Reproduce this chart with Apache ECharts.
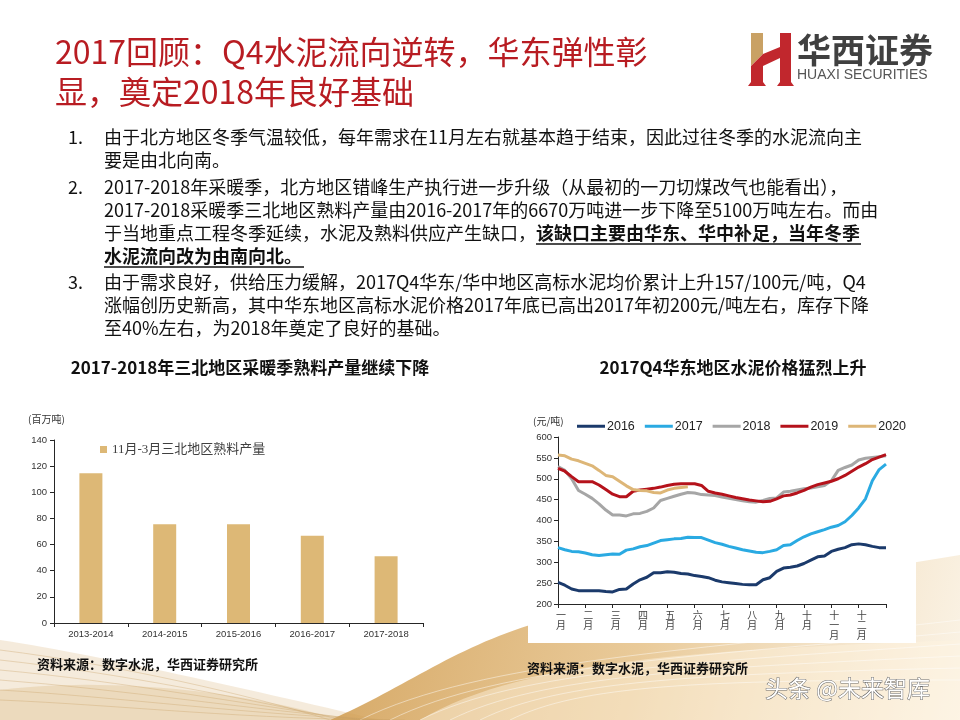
<!DOCTYPE html>
<html>
<head>
<meta charset="utf-8">
<script src="https://cdn.jsdelivr.net/npm/echarts@6/dist/echarts.min.js"></script>
<style>
html,body{margin:0;padding:0;background:#fff;}
#c{width:960px;height:720px;}
</style>
</head>
<body>
<div id="c"></div>
<script>
// ---------- data ----------
const barCategories = ['2013-2014', '2014-2015', '2015-2016', '2016-2017', '2017-2018'];
const barValues = [114.5, 75.6, 75.6, 66.7, 51.0];
const barSeriesName = '11月-3月三北地区熟料产量';
const barTicks = [0, 20, 40, 60, 80, 100, 120, 140];

const monthLabels = ['一\n月', '二\n月', '三\n月', '四\n月', '五\n月', '六\n月', '七\n月', '八\n月', '九\n月', '十\n月', '十\n一\n月', '十\n二\n月'];
const years = ['2016', '2017', '2018', '2019', '2020'];
const price2016 = [252,245,236,232,232,232,232,230,229,235,236,248,258,264,275,275,277,276,273,272,268,266,263,257,253,251,249,247,246,246,258,263,278,286,288,291,297,305,313,315,326,331,335,342,344,342,338,335,335];
const price2017 = [335,330,326,325,322,318,316,318,320,319,329,332,337,340,346,352,354,356,357,360,359,359,353,347,343,338,334,330,327,324,323,326,330,340,342,352,361,368,373,378,384,388,397,412,430,452,495,522,535];
const price2018 = [529,520,500,472,463,453,440,425,413,413,411,416,417,422,430,448,453,458,463,467,466,462,461,460,456,453,450,447,445,444,448,453,454,468,470,473,476,478,481,484,495,520,527,533,545,549,551,553,555];
const price2019 = [525,518,505,493,493,493,485,474,463,457,457,470,473,475,477,480,484,487,488,488,488,484,470,466,463,459,455,452,449,447,445,446,452,459,461,466,472,480,486,490,494,500,508,518,528,536,546,552,558];
const price2020 = [557,555,547,543,537,531,520,508,505,494,483,474,472,471,467,466,473,477,479,481];
const priceTicks = [200, 250, 300, 350, 400, 450, 500, 550, 600];

// ---------- text ----------
const titleLine1 = '2017回顾：Q4水泥流向逆转，华东弹性彰';
const titleLine2 = '显，奠定2018年良好基础';
const paraLines = [
  ['1.', '由于北方地区冬季气温较低，每年需求在11月左右就基本趋于结束，因此过往冬季的水泥流向主'],
  ['', '要是由北向南。'],
  ['2.', '2017-2018年采暖季，北方地区错峰生产执行进一步升级（从最初的一刀切煤改气也能看出），'],
  ['', '2017-2018采暖季三北地区熟料产量由2016-2017年的6670万吨进一步下降至5100万吨左右。而由'],
  ['', '于当地重点工程冬季延续，水泥及熟料供应产生缺口，'],
  ['', ''],
  ['3.', '由于需求良好，供给压力缓解，2017Q4华东/华中地区高标水泥均价累计上升157/100元/吨，Q4'],
  ['', '涨幅创历史新高，其中华东地区高标水泥价格2017年底已高出2017年初200元/吨左右，库存下降'],
  ['', '至40%左右，为2018年奠定了良好的基础。']
];
const boldLine5 = '该缺口主要由华东、华中补足，当年冬季';
const boldLine6 = '水泥流向改为由南向北。';
const leftTitle = '2017-2018年三北地区采暖季熟料产量继续下降';
const rightTitle = '2017Q4华东地区水泥价格猛烈上升';
const sourceText = '资料来源：数字水泥，华西证券研究所';

const weekCats = price2016.map((v, i) => 'w' + i);
const colors = ['#1B3A6B', '#2AAAE2', '#A6A6A6', '#B5121B', '#DDB677'];

const CJK = '"Liberation Sans Narrow","Noto Sans CJK SC",sans-serif';
const SANS = '"Liberation Sans","Noto Sans CJK SC",sans-serif';

function T(x, y, text, font, fill, align, extra) {
  const st = Object.assign({
    text: text, x: x, y: y, font: font, fill: fill,
    align: align || 'left', verticalAlign: 'middle',
    textAlign: align || 'left', textVerticalAlign: 'middle'
  }, extra || {});
  return { type: 'text', z: 50, style: st, silent: true };
}
// decorative curve sampling (background only)
function bez(p0, p1, p2, p3, n) {
  const pts = [];
  for (let i = 0; i <= n; i++) {
    const t = i / n, u = 1 - t;
    pts.push([u*u*u*p0[0] + 3*u*u*t*p1[0] + 3*u*t*t*p2[0] + t*t*t*p3[0],
              u*u*u*p0[1] + 3*u*u*t*p1[1] + 3*u*t*t*p2[1] + t*t*t*p3[1]]);
  }
  return pts;
}
function shapePoly(pts, fill, z) {
  return { type: 'polygon', z: z, silent: true, shape: { points: pts }, style: { fill: fill } };
}
function curve(p0, p1, p2, p3, stroke, z) {
  return { type: 'bezierCurve', z: z, silent: true,
    shape: { x1: p0[0], y1: p0[1], cpx1: p1[0], cpy1: p1[1], cpx2: p2[0], cpy2: p2[1], x2: p3[0], y2: p3[1] },
    style: { fill: null, stroke: stroke, lineWidth: 1 } };
}

const g = [];
// background decorations
g.push(shapePoly(bez([0, 640], [100, 655], [250, 690], [380, 720], 30).concat([[0, 720]]), 'rgba(222,190,138,0.30)', -20));
g.push(shapePoly(bez([0, 690], [120, 675], [260, 695], [340, 720], 30).concat([[0, 720]]), 'rgba(215,178,120,0.30)', -20));
g.push(shapePoly(bez([330, 720], [400, 690], [450, 650], [530, 625], 30).concat([[960, 555], [960, 720]]),
  { type: 'linear', x: 0, y: 0, x2: 1, y2: 1, global: false, colorStops: [
    { offset: 0, color: 'rgba(205,150,70,0.85)' }, { offset: 0.5, color: 'rgba(226,185,120,0.75)' }, { offset: 1, color: 'rgba(248,236,215,0.6)' }] }, -19));
g.push(shapePoly(bez([420, 720], [520, 660], [700, 650], [960, 640], 30).concat([[960, 720]]), 'rgba(255,245,225,0.45)', -18));
for (let k = 0; k < 6; k++) {
  g.push(curve([360 + k * 30, 720], [480 + k * 20, 660 + k * 5], [700, 650 + k * 6], [960, 620 + k * 12], 'rgba(255,255,255,0.45)', -17));
  g.push(curve([0, 650 + k * 10], [120, 665 + k * 8], [250, 695 + k * 5], [330 + k * 15, 720], 'rgba(200,160,100,0.35)', -17));
}
// white box behind right chart
g.push({ type: 'rect', z: -10, silent: true, shape: { x: 528, y: 380, width: 388, height: 263 }, style: { fill: '#ffffff' } });

// logo
g.push(shapePoly([[751, 33], [763, 33], [763, 54], [751, 66]], '#C9A164', 40));
g.push(shapePoly([[751, 66], [763, 54], [763, 82], [766, 86], [748, 86], [751, 82]], '#C1272D', 40));
g.push(shapePoly([[763, 54], [780, 47], [780, 58], [763, 66]], '#C1272D', 40));
g.push(shapePoly([[780, 33], [791, 33], [791, 82], [794, 86], [777, 86], [780, 82]], '#C1272D', 40));
g.push(T(797, 50, '华西证券', 'bold 34px "Noto Sans CJK SC",sans-serif', '#404040'));
g.push(T(797, 75, 'HUAXI SECURITIES', '14px "Liberation Sans",sans-serif', '#555555'));

// title
g.push(T(55, 52, titleLine1, '32px ' + CJK, '#B81C22'));
g.push(T(55, 92, titleLine2, '32px ' + CJK, '#B81C22'));

// paragraphs
const paraY = [137, 160, 187, 210, 233, 256, 282, 305, 328];
paraLines.forEach((p, i) => {
  if (p[0]) g.push(T(68, paraY[i], p[0], '18px ' + CJK, '#111'));
  if (p[1]) g.push(T(104, paraY[i], p[1], '18px ' + CJK, '#111'));
});
g.push(T(536, paraY[4], boldLine5, 'bold 18px ' + CJK, '#111'));
g.push(T(104, paraY[5], boldLine6, 'bold 18px ' + CJK, '#111'));
g.push({ type: 'line', z: 50, silent: true, shape: { x1: 536, y1: 244, x2: 861, y2: 244 }, style: { stroke: '#111', lineWidth: 1.5 } });
g.push({ type: 'line', z: 50, silent: true, shape: { x1: 104, y1: 267, x2: 304, y2: 267 }, style: { stroke: '#111', lineWidth: 1.5 } });

// chart titles, units, sources
g.push(T(250, 368, leftTitle, 'bold 17px ' + CJK, '#111', 'center'));
g.push(T(733, 368, rightTitle, 'bold 17px ' + CJK, '#111', 'center'));
g.push(T(28, 419, '(百万吨)', '10px ' + CJK, '#333'));
g.push(T(533, 421, '(元/吨)', '10px ' + CJK, '#333'));
g.push(T(37, 664, sourceText, 'bold 13px "Noto Sans CJK SC",sans-serif', '#111'));
g.push(T(527, 668, sourceText, 'bold 13px "Noto Sans CJK SC",sans-serif', '#111'));
g.push(T(765, 688, '头条 @未来智库', '23px "Noto Sans CJK SC",sans-serif', '#ffffff', 'left', { stroke: '#6b6b6b', lineWidth: 1 }));

const axisColor = '#262626';
const option = {
  backgroundColor: '#ffffff',
  animation: false,
  graphic: { elements: g },
  grid: [
    { left: 54, top: 440, width: 369, height: 183 },
    { left: 558, top: 437, width: 328, height: 167 }
  ],
  legend: [
    { left: 100, top: 443, padding: 0, icon: 'rect', itemWidth: 7, itemHeight: 7, itemGap: 10,
      data: [barSeriesName], textStyle: { fontSize: 13, color: '#404040', fontFamily: '"Liberation Serif","Noto Sans CJK SC",serif' } },
    { left: 577, top: 420, padding: 0, icon: 'rect', itemWidth: 28, itemHeight: 3, itemGap: 10,
      data: years, textStyle: { fontSize: 12.5, color: '#222', fontFamily: SANS, padding: [0, 0, 0, -3] } }
  ],
  xAxis: [
    { gridIndex: 0, type: 'category', data: barCategories,
      axisLine: { lineStyle: { color: axisColor } },
      axisTick: { show: true, length: 4, lineStyle: { color: axisColor } },
      axisLabel: { fontSize: 9.5, color: '#333', fontFamily: SANS, margin: 7 } },
    { gridIndex: 1, type: 'category', data: weekCats, boundaryGap: false,
      axisLine: { lineStyle: { color: axisColor } },
      axisTick: { show: true, interval: 3, length: 4, lineStyle: { color: axisColor } },
      axisLabel: { interval: 3, fontSize: 10, lineHeight: 10, color: '#444', margin: 6, padding: [0, 0, 0, 6],
        fontFamily: '"Noto Sans CJK SC",sans-serif',
        formatter: function (v, idx) { return (idx % 4 === 0 && monthLabels[idx / 4]) ? monthLabels[idx / 4] : ''; } } }
  ],
  yAxis: [
    { gridIndex: 0, type: 'value', min: barTicks[0], max: barTicks[barTicks.length - 1], interval: barTicks[1] - barTicks[0],
      axisLine: { show: true, lineStyle: { color: axisColor } },
      axisTick: { show: true, length: 4, lineStyle: { color: axisColor } },
      splitLine: { show: false },
      axisLabel: { fontSize: 9.5, color: '#333', fontFamily: SANS, margin: 7 } },
    { gridIndex: 1, type: 'value', min: priceTicks[0], max: priceTicks[priceTicks.length - 1], interval: priceTicks[1] - priceTicks[0],
      axisLine: { show: true, lineStyle: { color: axisColor } },
      axisTick: { show: true, length: 4, lineStyle: { color: axisColor } },
      splitLine: { show: false },
      axisLabel: { fontSize: 9.5, color: '#333', fontFamily: SANS, margin: 6 } }
  ],
  series: [
    { name: barSeriesName, type: 'bar', xAxisIndex: 0, yAxisIndex: 0, data: barValues,
      barWidth: 23, itemStyle: { color: '#DDB876' } }
  ].concat([price2016, price2017, price2018, price2019, price2020].map((d, i) => ({
    name: years[i], type: 'line', xAxisIndex: 1, yAxisIndex: 1, data: d,
    showSymbol: false, symbol: 'none', smooth: false,
    lineStyle: { width: 3, color: colors[i] }, itemStyle: { color: colors[i] }
  })))
};
const chart = echarts.init(document.getElementById('c'), null, { renderer: 'canvas' });
chart.setOption(option);
</script>
</body>
</html>
